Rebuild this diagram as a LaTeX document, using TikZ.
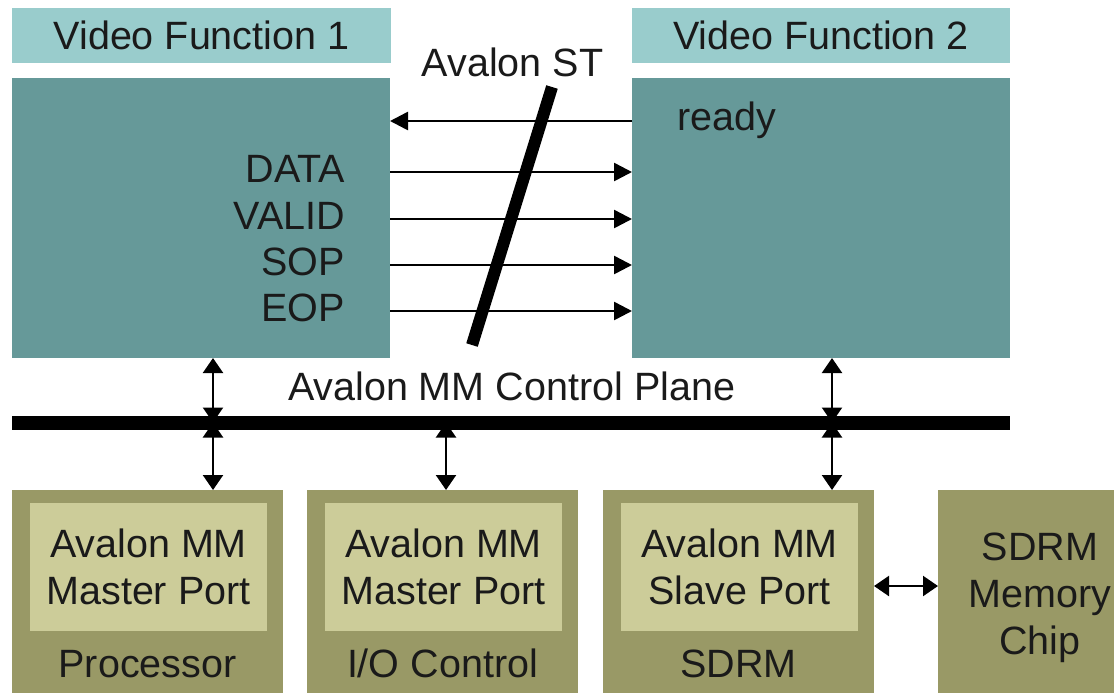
\documentclass[tikz,border=0pt]{standalone}
\usepackage{fontspec}
\setmainfont{Liberation Sans}
\usetikzlibrary{arrows.meta}
\definecolor{hdrteal}{HTML}{99CCCC}
\definecolor{bodyteal}{HTML}{669999}
\definecolor{mmolive}{HTML}{999966}
\definecolor{paleolive}{HTML}{CCCC99}
\definecolor{ink}{HTML}{1A1A1A}

\begin{document}
\begin{tikzpicture}[x=0.5pt,y=-0.5pt,
  every node/.style={font=\fontsize{19.75pt}{23.5pt}\selectfont, text=ink, inner sep=0pt, outer sep=0pt},
  blk/.style={anchor=north west, inner sep=0pt},
  sig/.style={line width=1.3pt, -{Triangle[length=9pt,width=9pt]}},
  dbl/.style={line width=1.1pt, {Triangle[length=7.5pt,width=10pt]}-{Triangle[length=7.5pt,width=10pt]}}]
\useasboundingbox (0,0) rectangle (1114,693);

% video function blocks
\node[blk, fill=hdrteal, minimum width=189.5pt, minimum height=27.5pt] (vf1h) at (12,8) {Video Function 1};
\node[blk, fill=bodyteal, minimum width=189pt, minimum height=140pt] (vf1) at (12,78) {};
\node[blk, fill=hdrteal, minimum width=189pt, minimum height=27.5pt] (vf2h) at (632,8) {Video Function 2};
\node[blk, fill=bodyteal, minimum width=189pt, minimum height=140pt] (vf2) at (632,78) {};

% streaming signal levels
\coordinate (yReady) at (0,121);
\coordinate (yData)  at (0,172);
\coordinate (yValid) at (0,219);
\coordinate (ySop)   at (0,265);
\coordinate (yEop)   at (0,311);

\node[anchor=base east] (lData)  at (345,182) {DATA};
\node[anchor=base east] (lValid) at (345,229) {VALID};
\node[anchor=base east] (lSop)   at (345,275) {SOP};
\node[anchor=base east] (lEop)   at (345,321) {EOP};
\node[anchor=base west] (lReady) at (677,130) {ready};

\draw[sig] (vf2.west |- yReady) -- (vf1.east |- yReady);
\draw[sig] (vf1.east |- yData)  -- (vf2.west |- yData);
\draw[sig] (vf1.east |- yValid) -- (vf2.west |- yValid);
\draw[sig] (vf1.east |- ySop)   -- (vf2.west |- ySop);
\draw[sig] (vf1.east |- yEop)   -- (vf2.west |- yEop);

% bundle slash
\coordinate (slT) at (552,87);
\coordinate (slB) at (472,345);
\draw[line width=6pt] (slT) -- (slB);
\node[anchor=base] (st) at (512.5,76) {Avalon ST};

% control plane bus
\coordinate (busL) at (12,422.5);
\coordinate (busR) at (1010,422.5);
\draw[line width=7pt] (busL) -- (busR);
\node[anchor=base west] (mm) at (288,400) {Avalon MM Control Plane};

% bottom components
\coordinate (yLbl) at (0,677);
\node[blk, fill=mmolive, minimum width=135.5pt, minimum height=101.5pt] (proc) at (12,490) {};
\node[blk, fill=paleolive, minimum width=118.5pt, minimum height=64pt, align=center] (procp) at (30,503) {Avalon MM\\Master Port};
\node[anchor=base] (procl) at (proc.center |- yLbl) {Processor};

\node[blk, fill=mmolive, minimum width=135.5pt, minimum height=101.5pt] (io) at (307,490) {};
\node[blk, fill=paleolive, minimum width=118.5pt, minimum height=64pt, align=center] (iop) at (325,503) {Avalon MM\\Master Port};
\node[anchor=base] (iol) at (io.center |- yLbl) {I/O Control};

\node[blk, fill=mmolive, minimum width=135.5pt, minimum height=101.5pt] (sd) at (603,490) {};
\node[blk, fill=paleolive, minimum width=118.5pt, minimum height=64pt, align=center] (sdp) at (621,503) {Avalon MM\\Slave Port};
\node[anchor=base] (sdl) at (sd.center |- yLbl) {SDRM};

\node[blk, fill=mmolive, minimum width=88pt, minimum height=101.5pt] (chip) at (938,490) {};
\node[align=center] (chipt) at (1040,598) {SDRM\\Memory\\Chip};

% bus taps
\coordinate (tapA) at (213,422.5);
\coordinate (tapB) at (446,422.5);
\coordinate (tapC) at (832,422.5);
\coordinate (yMem) at (0,586);
\draw[dbl] (vf1.south -| tapA) -- (tapA);
\draw[dbl] (tapA) -- (proc.north -| tapA);
\draw[dbl] (tapB) -- (io.north -| tapB);
\draw[dbl] (vf2.south -| tapC) -- (tapC);
\draw[dbl] (tapC) -- (sd.north -| tapC);
\draw[dbl] (sd.east |- yMem) -- (chip.west |- yMem);
\end{tikzpicture}
\end{document}
